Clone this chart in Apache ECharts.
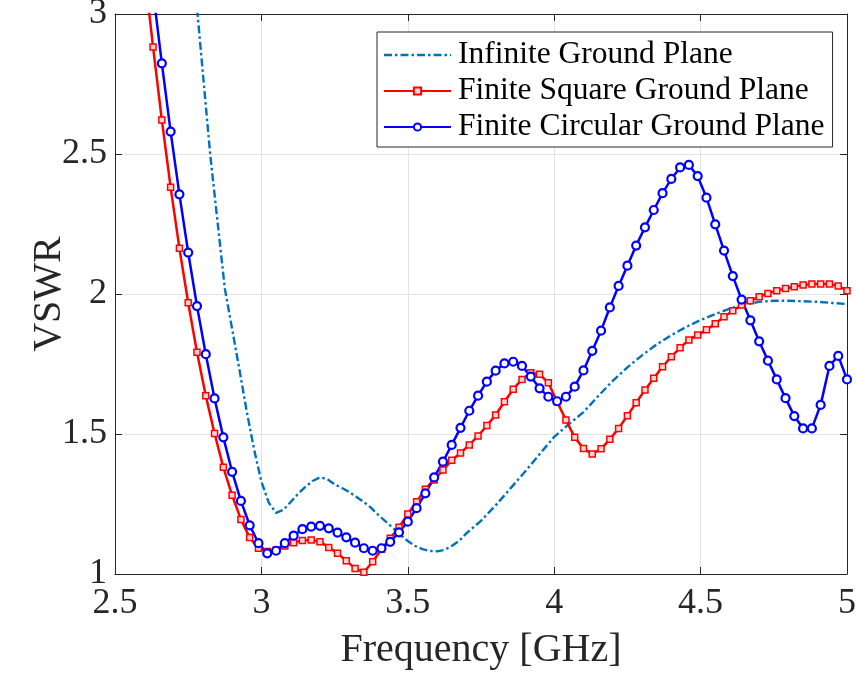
<!DOCTYPE html>
<html>
<head>
<meta charset="utf-8">
<script src="https://cdn.jsdelivr.net/npm/echarts@6/dist/echarts.min.js"></script>
<style>
html,body{margin:0;padding:0;background:#fff;}
#chart{width:856px;height:673px;}
</style>
</head>
<body>
<div id="chart"></div>
<script>
// Frequencies (GHz) of the sampled finite ground plane curves
var freq = [2.57,2.60,2.63,2.66,2.69,2.72,2.75,2.78,2.81,2.84,2.87,2.90,2.93,2.96,2.99,
  3.02,3.05,3.08,3.11,3.14,3.17,3.20,3.23,3.26,3.29,3.32,3.35,3.38,3.41,3.44,3.47,
  3.50,3.53,3.56,3.59,3.62,3.65,3.68,3.71,3.74,3.77,3.80,3.83,3.86,3.89,3.92,3.95,
  3.98,4.01,4.04,4.07,4.10,4.13,4.16,4.19,4.22,4.25,4.28,4.31,4.34,4.37,4.40,4.43,
  4.46,4.49,4.52,4.55,4.58,4.61,4.64,4.67,4.70,4.73,4.76,4.79,4.82,4.85,4.88,4.91,
  4.94,4.97,5.00];

var squareVswr = [3.75,3.16,2.882,2.621,2.381,2.163,1.969,1.792,1.637,1.502,1.381,1.281,1.195,1.130,1.092,
  1.080,1.085,1.100,1.112,1.120,1.121,1.115,1.095,1.074,1.047,1.020,1.006,1.044,1.088,1.128,1.167,
  1.214,1.258,1.303,1.336,1.371,1.406,1.432,1.461,1.493,1.530,1.568,1.615,1.660,1.695,1.719,1.713,
  1.683,1.615,1.550,1.488,1.448,1.429,1.447,1.481,1.520,1.565,1.612,1.657,1.699,1.740,1.776,1.808,
  1.836,1.854,1.872,1.894,1.919,1.940,1.961,1.976,1.990,2.002,2.012,2.020,2.026,2.032,2.036,2.036,
  2.036,2.029,2.012];

var circularVswr = [3.62,3.34,3.08,2.824,2.580,2.356,2.148,1.957,1.785,1.627,1.488,1.365,1.261,1.174,1.110,
  1.074,1.083,1.110,1.137,1.160,1.169,1.172,1.163,1.148,1.131,1.112,1.092,1.083,1.092,1.115,1.149,
  1.187,1.235,1.288,1.345,1.401,1.461,1.522,1.583,1.637,1.687,1.726,1.752,1.758,1.743,1.705,1.663,
  1.633,1.617,1.633,1.669,1.727,1.797,1.869,1.952,2.029,2.101,2.173,2.238,2.300,2.360,2.411,2.452,
  2.461,2.421,2.344,2.249,2.155,2.064,1.980,1.906,1.831,1.762,1.695,1.628,1.564,1.520,1.520,1.604,
  1.743,1.779,1.695];

// Infinite ground plane curve
var infFreq = [2.75,2.80,2.825,2.85,2.875,2.90,2.925,2.95,2.975,3.00,3.025,3.05,3.075,3.10,3.125,
  3.15,3.175,3.20,3.225,3.25,3.275,3.30,3.325,3.35,3.375,3.40,3.425,3.45,3.475,3.50,3.525,
  3.55,3.575,3.60,3.625,3.65,3.675,3.70,3.75,3.80,3.85,3.90,3.95,4.00,4.05,4.10,4.15,4.20,
  4.25,4.30,4.35,4.40,4.45,4.50,4.55,4.60,4.65,4.70,4.75,4.80,4.85,4.90,4.95,5.00];
var infVswr = [3.37,2.79,2.50,2.26,2.02,1.875,1.73,1.58,1.445,1.33,1.255,1.218,1.229,1.257,1.286,
  1.311,1.332,1.345,1.339,1.320,1.307,1.293,1.275,1.257,1.236,1.210,1.187,1.164,1.139,1.118,1.100,
  1.089,1.082,1.081,1.086,1.100,1.118,1.145,1.190,1.245,1.305,1.365,1.428,1.490,1.535,1.578,1.635,1.690,
  1.738,1.781,1.820,1.853,1.882,1.907,1.928,1.948,1.962,1.972,1.976,1.976,1.974,1.972,1.968,1.964];

var seriesNames = ['Infinite Ground Plane','Finite Square Ground Plane','Finite Circular Ground Plane'];
var xTicks = ['2.5','3','3.5','4','4.5','5'];
var yTicks = ['1','1.5','2','2.5','3'];

function pairs(xs, ys){ return xs.map(function(x,i){ return [x, ys[i]]; }); }

var FONT = 'Liberation Serif, Times New Roman, serif';
var AX = '#262626';

// legend icon for the dash-dot line (no marker)
var dashDotIcon = 'path://M0,0h8v2.4h-8z M11,0h2.5v2.4h-2.5z M16.5,0h8v2.4h-8z M27.5,0h2.5v2.4h-2.5z M33,0h8v2.4h-8z M44,0h2.5v2.4h-2.5z M49.5,0h8v2.4h-8z M60.5,0h2.5v2.4h-2.5z M66,0h1v2.4h-1z';

var chart = echarts.init(document.getElementById('chart'), null, {renderer:'canvas'});
var baseX = { type:'value', min:2.5, max:5, interval:0.5 };
var baseY = { type:'value', min:1, max:3, interval:0.5 };
chart.setOption({
  animation:false,
  backgroundColor:'#fff',
  grid:{left:115, right:9, top:14, bottom:99, containLabel:false, outerBoundsMode:'none'},
  legend:{
    orient:'vertical', left:377, top:32,
    padding:[7,8,4,6], itemGap:4, itemWidth:67, itemHeight:9,
    backgroundColor:'#fff', borderColor:AX, borderWidth:1, borderRadius:0,
    textStyle:{fontFamily:FONT, fontSize:31.5, color:'#000', lineHeight:32, padding:[0,0,0,2]},
    data:[{name:seriesNames[0], icon:dashDotIcon}, {name:seriesNames[1]}, {name:seriesNames[2]}],
    selectedMode:false
  },
  xAxis:[
    Object.assign({}, baseX, {
      position:'bottom',
      name:'Frequency [GHz]', nameLocation:'middle', nameGap:56, nameMoveOverlap:false,
      nameTextStyle:{fontFamily:FONT, fontSize:40, color:AX},
      axisLine:{show:true, lineStyle:{color:AX, width:1}},
      axisTick:{show:true, inside:true, length:7, lineStyle:{color:AX}},
      axisLabel:{show:true, margin:12, fontFamily:FONT, fontSize:36, color:AX,
        formatter:function(v){ var i = Math.round((v-2.5)/0.5); return xTicks[i] !== undefined ? xTicks[i] : ''; }},
      splitLine:{show:true, lineStyle:{color:'#e3e3e3', width:1}}
    }),
    Object.assign({}, baseX, {
      position:'top',
      axisLine:{show:true, lineStyle:{color:AX, width:1}},
      axisTick:{show:true, inside:true, length:7, lineStyle:{color:AX}},
      axisLabel:{show:false}, splitLine:{show:false}
    })
  ],
  yAxis:[
    Object.assign({}, baseY, {
      position:'left',
      name:'VSWR', nameLocation:'middle', nameGap:46, nameMoveOverlap:false,
      nameTextStyle:{fontFamily:FONT, fontSize:40, color:AX},
      axisLine:{show:true, lineStyle:{color:AX, width:1}},
      axisTick:{show:true, inside:true, length:7, lineStyle:{color:AX}},
      axisLabel:{show:true, margin:8, fontFamily:FONT, fontSize:36, color:AX,
        formatter:function(v){ var i = Math.round((v-1)/0.5); return yTicks[i] !== undefined ? yTicks[i] : ''; }},
      splitLine:{show:true, lineStyle:{color:'#e3e3e3', width:1}}
    }),
    Object.assign({}, baseY, {
      position:'right',
      axisLine:{show:true, lineStyle:{color:AX, width:1}},
      axisTick:{show:true, inside:true, length:7, lineStyle:{color:AX}},
      axisLabel:{show:false}, splitLine:{show:false}
    })
  ],
  series:[
    {
      name:seriesNames[0], type:'line', xAxisIndex:0, yAxisIndex:0,
      data:pairs(infFreq, infVswr), showSymbol:false, symbol:'none', clip:true,
      lineStyle:{color:'#0072BD', width:2.4, type:[8,3,2.5,3]},
      itemStyle:{color:'#0072BD'},
      emphasis:{disabled:true}
    },
    {
      name:seriesNames[1], type:'line', xAxisIndex:0, yAxisIndex:0,
      data:pairs(freq, squareVswr), symbol:'rect', symbolSize:6, showAllSymbol:true, clip:true,
      lineStyle:{color:'#FF0000', width:2.5},
      itemStyle:{color:'#ffd6d6', borderColor:'#FF0000', borderWidth:1.5},
      emphasis:{disabled:true}
    },
    {
      name:seriesNames[2], type:'line', xAxisIndex:0, yAxisIndex:0,
      data:pairs(freq, circularVswr), symbol:'circle', symbolSize:8, showAllSymbol:true, clip:true,
      lineStyle:{color:'#0000FF', width:2.5},
      itemStyle:{color:'#fff', borderColor:'#0000FF', borderWidth:2.2},
      emphasis:{disabled:true}
    }
  ]
});
</script>
</body>
</html>
